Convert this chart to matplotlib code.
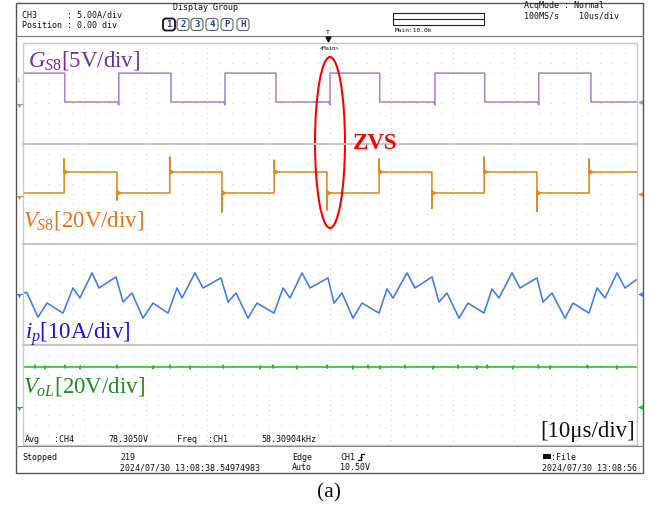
import matplotlib.pyplot as plt
import matplotlib.transforms as mtransforms
from matplotlib.patches import Ellipse, Rectangle, FancyBboxPatch

plt.rcParams['mathtext.fontset'] = 'custom'
plt.rcParams['mathtext.rm'] = 'Liberation Serif'
plt.rcParams['mathtext.it'] = 'Liberation Serif:italic'

# ---- values (time in us) ----
gate_fall = [6.8, 24.1, 41.2, 58.1, 75.2, 92.5]
gate_rise = [15.6, 32.9, 50.0, 67.1, 84.0]
gate_high = 11.5      # V
gate_low = 0.0
gate_dip = -1.1       # small notch just before each rising edge

vs_rise = [6.7, 23.9, 40.9, 58.0, 75.1, 92.2]
vs_fall = [15.3, 32.4, 49.5, 66.6, 83.7]
vs_high = 33.4        # V
vs_low = 0.0
vs_rise_peak = [54, 57, 52, 54, 57, 54]
vs_fall_peak = [-11, -30, -27, -24, -29]
ring_dt = [0.08, 0.18, 0.3, 0.45, 0.65]
ring_dv = [3.5, -2.5, 2, -1.2, 0.6]

ip_t = [0.0, 0.6, 2.44, 3.91, 6.51, 8.14, 9.28, 11.24, 12.38, 15.15,
        16.29, 17.75, 19.54, 21.17, 23.62, 25.08, 25.9, 28.01, 29.32, 32.25,
        33.39, 34.69, 36.64, 38.11, 40.88, 42.35, 43.49, 45.44, 46.74, 49.67,
        50.65, 51.95, 53.75, 55.21, 57.98, 59.28, 60.26, 62.54, 63.84, 66.61,
        67.75, 69.06, 71.01, 72.48, 75.08, 76.38, 77.52, 79.64, 80.94, 83.71,
        84.69, 86.16, 88.27, 89.58, 92.18, 93.49, 94.79, 96.74, 98.05, 99.84]
ip_a = [-0.3, 0.6, -19.2, -8.0, -16.0, 4.0, -4.0, 16.0, 4.0, 12.8,
        -7.2, 0.0, -20.0, -8.0, -16.0, 4.0, -4.0, 16.0, 4.0, 12.0,
        -7.2, 0.0, -20.0, -8.0, -16.0, 4.0, -4.0, 16.0, 4.0, 12.0,
        -8.0, 0.0, -20.0, -8.0, -16.0, 3.2, -4.0, 16.0, 4.0, 12.8,
        -7.2, 0.0, -20.0, -8.0, -16.0, 3.2, -4.0, 16.0, 4.0, 12.0,
        -7.2, 0.0, -20.0, -8.0, -16.0, 4.0, -4.0, 16.0, 4.0, 10.4]

vol_level = 63.7      # V
vol_glitch_t = [1.95, 3.58, 6.84, 9.28, 15.31, 21.17, 23.94, 27.2, 32.57, 38.6,
                40.7, 44.6, 49.5, 53.7, 56.2, 58.1, 62.2, 66.8, 70.8, 73.9,
                75.6, 79.8, 83.9, 85.8, 91.9, 96.7]
vol_glitch_v = 3.0


def gate_trace():
    edges = sorted([(t, 0) for t in gate_fall] + [(t, 1) for t in gate_rise])
    t, v = [0.0], [gate_high]
    for te, up in edges:
        if up:
            t += [te - 0.2, te, te]
            v += [gate_low, gate_dip, gate_high]
        else:
            t += [te, te]
            v += [gate_high, gate_low]
    t.append(100.0)
    v.append(v[-1])
    return t, v


def vs_trace():
    edges = sorted([(t, 1, p) for t, p in zip(vs_rise, vs_rise_peak)] +
                   [(t, 0, p) for t, p in zip(vs_fall, vs_fall_peak)])
    t, v = [0.0], [vs_low]
    for te, up, pk in edges:
        lvl = vs_high if up else vs_low
        t += [te, te, te]
        v += [v[-1], pk, lvl]
        for dt, dv in zip(ring_dt, ring_dv):
            t.append(te + dt)
            v.append(lvl + dv)
        t.append(te + 0.9)
        v.append(lvl)
    t.append(100.0)
    v.append(v[-1])
    return t, v


def vol_trace():
    t, v = [0.0], [vol_level]
    for i, tg in enumerate(vol_glitch_t):
        s = 1 if i % 2 == 0 else -1
        t += [tg, tg, tg + 0.05, tg + 0.1]
        v += [vol_level, vol_level + s * vol_glitch_v, vol_level - s * 0.6 * vol_glitch_v, vol_level]
    t.append(100.0)
    v.append(vol_level)
    return t, v


# ---- screen geometry (pixels) ----
W, H = 657, 507
GX0, GX1 = 23, 637
ZONES = [43, 143.5, 244, 344.5, 445]
PX_DIV = (ZONES[1] - ZONES[0]) / 8.0

fig = plt.figure(figsize=(W / 100, H / 100), dpi=100)
fig.patch.set_facecolor('white')

channels = [
    (gate_trace(), 102, 5, '#a882d9'),
    (vs_trace(), 193, 20, '#de8b1f'),
    ((ip_t, ip_a), 293, 10, '#3d7bf0'),
    (vol_trace(), 407, 20, '#22c022'),
]

for i, ((tt, vv), zero_px, vdiv, col) in enumerate(channels):
    top, bot = ZONES[i], ZONES[i + 1]
    ax = fig.add_axes([GX0 / W, 1 - bot / H, (GX1 - GX0) / W, (bot - top) / H])
    ax.set_xlim(0, 100)
    ax.set_ylim(-(bot - zero_px) / PX_DIV * vdiv, (zero_px - top) / PX_DIV * vdiv)
    ax.axis('off')
    ax.patch.set_alpha(0)
    # dotted grid
    tr = mtransforms.blended_transform_factory(ax.transData, ax.transAxes)
    xs = [2 * k for k in range(1, 50)]
    for r in range(1, 10):
        ax.plot(xs, [r / 10] * len(xs), ls='none', marker='s', ms=0.7, mew=0,
                color='#d2d2d2', transform=tr)
    for c in range(10, 100, 10):
        ys = [k / 10 + 0.05 for k in range(0, 10)]
        ax.plot([c] * len(ys), ys, ls='none', marker='s', ms=0.7, mew=0,
                color='#d2d2d2', transform=tr)
    ax.plot(tt, vv, color=col, lw=1.15, zorder=3, solid_joinstyle='round')

# ---- overlay in pixel coordinates ----
ov = fig.add_axes([0, 0, 1, 1], zorder=5)
ov.set_xlim(0, W)
ov.set_ylim(H, 0)
ov.axis('off')
ov.patch.set_alpha(0)

ov.add_patch(Rectangle((16, 3), 627, 470, fill=False, ec='#555555', lw=1.0))
ov.plot([16, 643], [36, 36], color='#777777', lw=0.8)
ov.add_patch(Rectangle((GX0, ZONES[0]), GX1 - GX0, ZONES[-1] - ZONES[0],
                       fill=False, ec='#c8c8c8', lw=1.0))
for yz in ZONES[1:4]:
    ov.plot([GX0, GX1], [yz, yz], color='#c8c8c8', lw=1.5)
ov.plot([16, 643], [446, 446], color='#888888', lw=0.8)

mono = dict(family='DejaVu Sans Mono', fontsize=6, color='#111111', va='center')
ov.text(22, 15, 'CH3      : 5.00A/div', **mono)
ov.text(22, 25, 'Position : 0.00 div', **mono)
ov.text(173, 8, 'Display Group', **mono)
for k, (cx, lab) in enumerate(zip([169, 183, 197, 212, 227, 243], '1234PH')):
    ov.add_patch(FancyBboxPatch((cx - 6, 18.5), 12, 12,
                                boxstyle='round,pad=0,rounding_size=3',
                                fc='white', ec='#111111' if k == 0 else '#666666',
                                lw=1.3 if k == 0 else 0.8))
    ov.text(cx, 24.5, lab, ha='center', va='center', family='DejaVu Sans Mono',
            fontsize=6.5, color='#1f3f8f', fontweight='bold')
ov.add_patch(Rectangle((393, 13), 91, 12, fill=False, ec='#222222', lw=0.8))
ov.plot([393, 484], [19, 19], color='#222222', lw=0.8)
ov.text(395, 31, 'Main:10.0k', family='DejaVu Sans Mono', fontsize=4.5,
        color='#111111', va='center')
ov.text(524, 6, 'AcqMode : Normal', **mono)
ov.text(524, 16, '100MS/s    10us/div', **mono)

# trigger marker
ov.text(328, 33, 'T', ha='center', va='center', fontsize=4.5, family='DejaVu Sans')
ov.plot([328], [38.5], marker='v', ms=3.5, color='#111111')
ov.text(329, 48, '<Main>', ha='center', va='center', fontsize=4,
        family='DejaVu Sans Mono', color='#111111')

# side markers
side = [('#a882d9', 105, 102), ('#de8b1f', 197, 194),
        ('#3d7bf0', 295, 294), ('#22c022', 408, 407)]
for col, yl, yr in side:
    ov.plot([16.5, 21.5], [yl - 1.5, yl - 1.5], color=col, lw=0.8)
    ov.plot([19], [yl + 0.5], marker='v', ms=2.5, color=col, mew=0)
    ov.plot([639.5], [yr], marker='<', ms=3.5, color=col, mew=0)
ov.text(18.5, 81, '1', fontsize=4, color='#a882d9', ha='center', va='center')

# measurement / status texts
ov.text(25, 440, 'Avg', **mono)
ov.text(54, 440, ':CH4', **mono)
ov.text(108, 440, '78.3050V', **mono)
ov.text(177, 440, 'Freq', **mono)
ov.text(208, 440, ':CH1', **mono)
ov.text(261, 440, '58.30904kHz', **mono)
ov.text(22, 457, 'Stopped', **mono)
ov.text(120, 457, '219', **mono)
ov.text(120, 468, '2024/07/30 13:08:38.54974983', **mono)
ov.text(292, 457, 'Edge', **mono)
ov.text(292, 468, 'Auto', **mono)
ov.text(340, 457, 'CH1', **mono)
ov.plot([358, 361, 361, 364], [460, 460, 454, 454], color='#111111', lw=0.9)
ov.plot([360, 362], [457, 457], color='#111111', lw=0.7)
ov.text(340, 468, '10.50V', **mono)
ov.add_patch(Rectangle((543, 454), 8, 5, fc='#111111', ec='none'))
ov.text(551, 457, ':File', **mono)
ov.text(542, 468, '2024/07/30 13:08:56', **mono)

# annotations
serif = dict(family='Liberation Serif', fontsize=16.5, va='baseline')
ov.text(28, 66, r'$G_{S8}$[5V/div]', color='#7030a0', **serif)
ov.text(23, 227, r'$V_{S8}$[20V/div]', color='#e8731c', **serif)
ov.text(25, 339, r'$i_{p}$[10A/div]', color='#1414e6', **serif)
ov.text(23, 393, r'$V_{oL}$[20V/div]', color='#1e8c1e', **serif)
ov.text(635, 437, '[10\u03bcs/div]', color='#111111', ha='right', **serif)
ov.text(353, 149, 'ZVS', color='#ff0000', fontweight='bold', **serif)
ov.add_patch(Ellipse((330, 142.5), 30, 171, fill=False, ec='#ff0000', lw=1.5))
ov.text(329, 497, '(a)', family='Liberation Serif', fontsize=15.5,
        ha='center', va='baseline', color='#111111')

fig.savefig('out.png', dpi=100)
